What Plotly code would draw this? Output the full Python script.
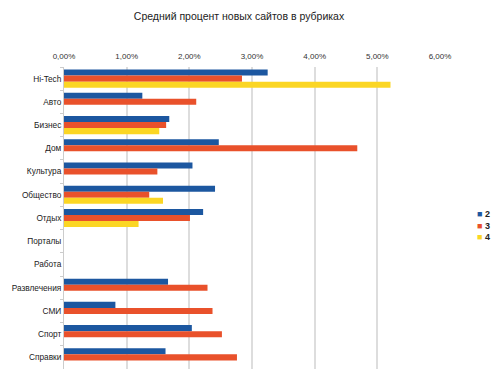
import plotly.graph_objects as go

categories = ["Hi-Tech", "Авто", "Бизнес", "Дом", "Культура", "Общество", "Отдых",
              "Порталы", "Работа", "Развлечения", "СМИ", "Спорт", "Справки"]
series_2 = [3.25, 1.25, 1.68, 2.47, 2.05, 2.41, 2.22, None, None, 1.66, 0.82, 2.04, 1.62]
series_3 = [2.84, 2.11, 1.63, 4.68, 1.49, 1.36, 2.01, None, None, 2.29, 2.37, 2.52, 2.76]
series_4 = [5.21, None, 1.52, None, None, 1.58, 1.19, None, None, None, None, None, None]
series_names = ["2", "3", "4"]
tick_vals = [0, 1, 2, 3, 4, 5, 6]
tick_text = [f"{v:.2f}%".replace(".", ",") for v in tick_vals]

colors = ["#1c57a0", "#e9512b", "#fbd624"]

fig = go.Figure()
for name, vals, c in zip(series_names, [series_2, series_3, series_4], colors):
    fig.add_trace(go.Bar(y=categories, x=vals, orientation="h", name=name,
                         marker=dict(color=c, line=dict(width=0)), showlegend=False))

legend_text = "<br>".join(
    f"<span style='color:{c}'>■</span> <b>{n}</b>" for n, c in zip(series_names, colors))
fig.add_annotation(text=legend_text, xref="paper", yref="paper", x=1.094, y=0.535,
                   xanchor="left", yanchor="top", showarrow=False, align="left",
                   font=dict(size=9, color="#222222"))

fig.update_layout(
    width=500, height=379,
    paper_bgcolor="white", plot_bgcolor="white",
    font=dict(family="Liberation Sans, Arial, sans-serif", size=8, color="#333333"),
    title=dict(text="Средний процент новых сайтов в рубриках", x=0.478, xanchor="center",
               yref="container", y=0.958, yanchor="middle",
               font=dict(size=10.5, color="#222222")),
    margin=dict(l=64, r=60, t=67, b=10),
    barmode="group", bargap=0.22, bargroupgap=0.0,
    showlegend=False,
)
fig.update_xaxes(side="top", range=[0, 6], tickvals=tick_vals, ticktext=tick_text,
                 showgrid=True, gridcolor="#dddddd", gridwidth=2, automargin=False,
                 zeroline=False, showline=False, ticks="", fixedrange=True,
                 ticklabelstandoff=5,
                 tickfont=dict(size=8, color="#333333"))
fig.update_yaxes(autorange="reversed", showgrid=False, showline=True, linecolor="#cccccc",
                 linewidth=1, ticks="outside", ticklen=3, tickcolor="#cccccc",
                 tickson="boundaries", automargin=False,
                 tickfont=dict(size=8.3, color="#222222"))

fig.write_html("out.html", config={"displayModeBar": False},
               post_script="document.body.style.margin='0';document.body.style.overflow='hidden';")
